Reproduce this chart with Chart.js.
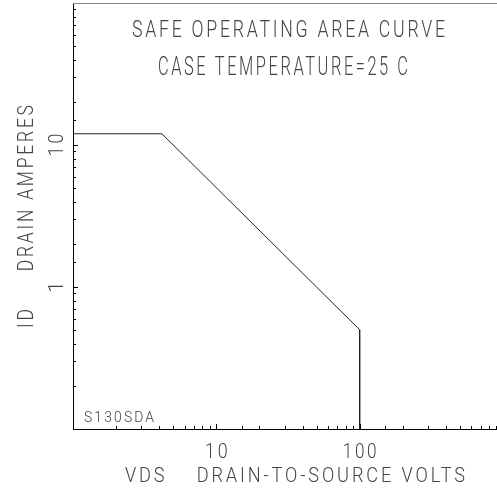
<!DOCTYPE html>
<html>
<head>
<meta charset="utf-8">
<style>
  html, body { margin: 0; padding: 0; background: #fff; overflow: hidden; width: 497px; height: 489px; }
  canvas { display: block; }
</style>
<script src="https://cdn.jsdelivr.net/npm/chart.js@4.4.1/dist/chart.umd.min.js"></script>
</head>
<body>
<canvas id="soa" width="520" height="489"></canvas>
<script>
// SOA boundary: VDS (volts) vs ID (amps)
const vds = [1, 4.17, 100, 100];
const id = [12, 12, 0.5, 0.1];
const xTickLabels = [10, 100];
const yTickLabels = [1, 10];
const titleLines = ['SAFE OPERATING AREA CURVE', 'CASE TEMPERATURE=25 C'];
const xTitle = 'VDS    DRAIN-TO-SOURCE VOLTS';
const yTitle = 'ID     DRAIN AMPERES';
const plotTag = 'S130SDA';

const FONT = "Roboto, 'DejaVu Sans Condensed', sans-serif";
const INK = '#444';

// draws caps text centred on x, sitting on baseline, squeezed to a given width
function fitText(ctx, str, x, baseline, cap, width, rotated) {
  ctx.save();
  ctx.translate(x, baseline);
  if (rotated) ctx.rotate(-Math.PI / 2);
  ctx.font = `300 ${(cap / 0.71).toFixed(1)}px ${FONT}`;
  const sp = cap * 0.22;
  ctx.letterSpacing = `${sp.toFixed(1)}px`;
  const w = ctx.measureText(str).width - sp;
  if (width) ctx.scale(width / w, 1);
  ctx.fillStyle = INK;
  ctx.textAlign = 'center';
  ctx.textBaseline = 'alphabetic';
  ctx.fillText(str, sp / 2, 0);
  ctx.restore();
}

const isDecade = (v) => Math.abs(Math.log10(v) - Math.round(Math.log10(v))) < 1e-6;

const decor = {
  id: 'decor',
  afterDraw(chart) {
    const { ctx, chartArea: a, scales: { x, y } } = chart;
    ctx.save();
    ctx.lineWidth = 1;
    ctx.strokeStyle = '#000';
    ctx.beginPath();
    x.ticks.forEach((t) => {
      const px = Math.round(x.getPixelForValue(t.value)) + 0.5;
      const len = isDecade(t.value) ? 5 : 3;
      ctx.moveTo(px, a.bottom);
      ctx.lineTo(px, a.bottom - len);
    });
    y.ticks.forEach((t) => {
      const py = Math.round(y.getPixelForValue(t.value)) + 0.5;
      const len = isDecade(t.value) ? 5 : 3;
      ctx.moveTo(a.left, py);
      ctx.lineTo(a.left + len, py);
    });
    ctx.stroke();
    // top frame line
    ctx.strokeStyle = '#888';
    ctx.beginPath();
    ctx.moveTo(a.left, Math.round(a.top) + 0.5);
    ctx.lineTo(a.right, Math.round(a.top) + 0.5);
    ctx.stroke();
    ctx.restore();

    // tick labels
    xTickLabels.forEach((v) => {
      const s = String(v);
      fitText(ctx, s, x.getPixelForValue(v), 458, 15, s.length * 11.3);
    });
    yTickLabels.forEach((v) => {
      const s = String(v);
      fitText(ctx, s, 63, y.getPixelForValue(v), 15, s.length * 11.3, true);
    });

    fitText(ctx, titleLines[0], 288.5, 37, 17, 313);
    fitText(ctx, titleLines[1], 283, 75, 18, 250);
    fitText(ctx, plotTag, 119, 421.5, 10, 70);
    fitText(ctx, xTitle, 295, 482, 14.5, 340);
    fitText(ctx, yTitle, 33, 216.5, 15.5, 223, true);
  },
};

new Chart(document.getElementById('soa'), {
  type: 'line',
  data: {
    datasets: [{
      data: vds.map((v, i) => ({ x: v, y: id[i] })),
      borderColor: '#222',
      borderWidth: 1,
      pointRadius: 0,
      tension: 0,
      fill: false,
    }],
  },
  options: {
    responsive: false,
    animation: false,
    devicePixelRatio: 1,
    layout: { padding: { top: 3, right: 17, left: 0, bottom: 0 } },
    plugins: { legend: { display: false }, tooltip: { enabled: false } },
    scales: {
      x: {
        type: 'logarithmic',
        min: 1,
        max: 1000,
        grid: { display: false },
        border: { display: true, color: '#000', width: 1 },
        ticks: { display: false, autoSkip: false },
        afterFit: (s) => { s.height = 60; },
      },
      y: {
        type: 'logarithmic',
        min: 0.1,
        max: 100,
        grid: { display: false },
        border: { display: true, color: '#000', width: 1 },
        ticks: { display: false, autoSkip: false },
        afterFit: (s) => { s.width = 73; },
      },
    },
  },
  plugins: [decor],
});
</script>
</body>
</html>
